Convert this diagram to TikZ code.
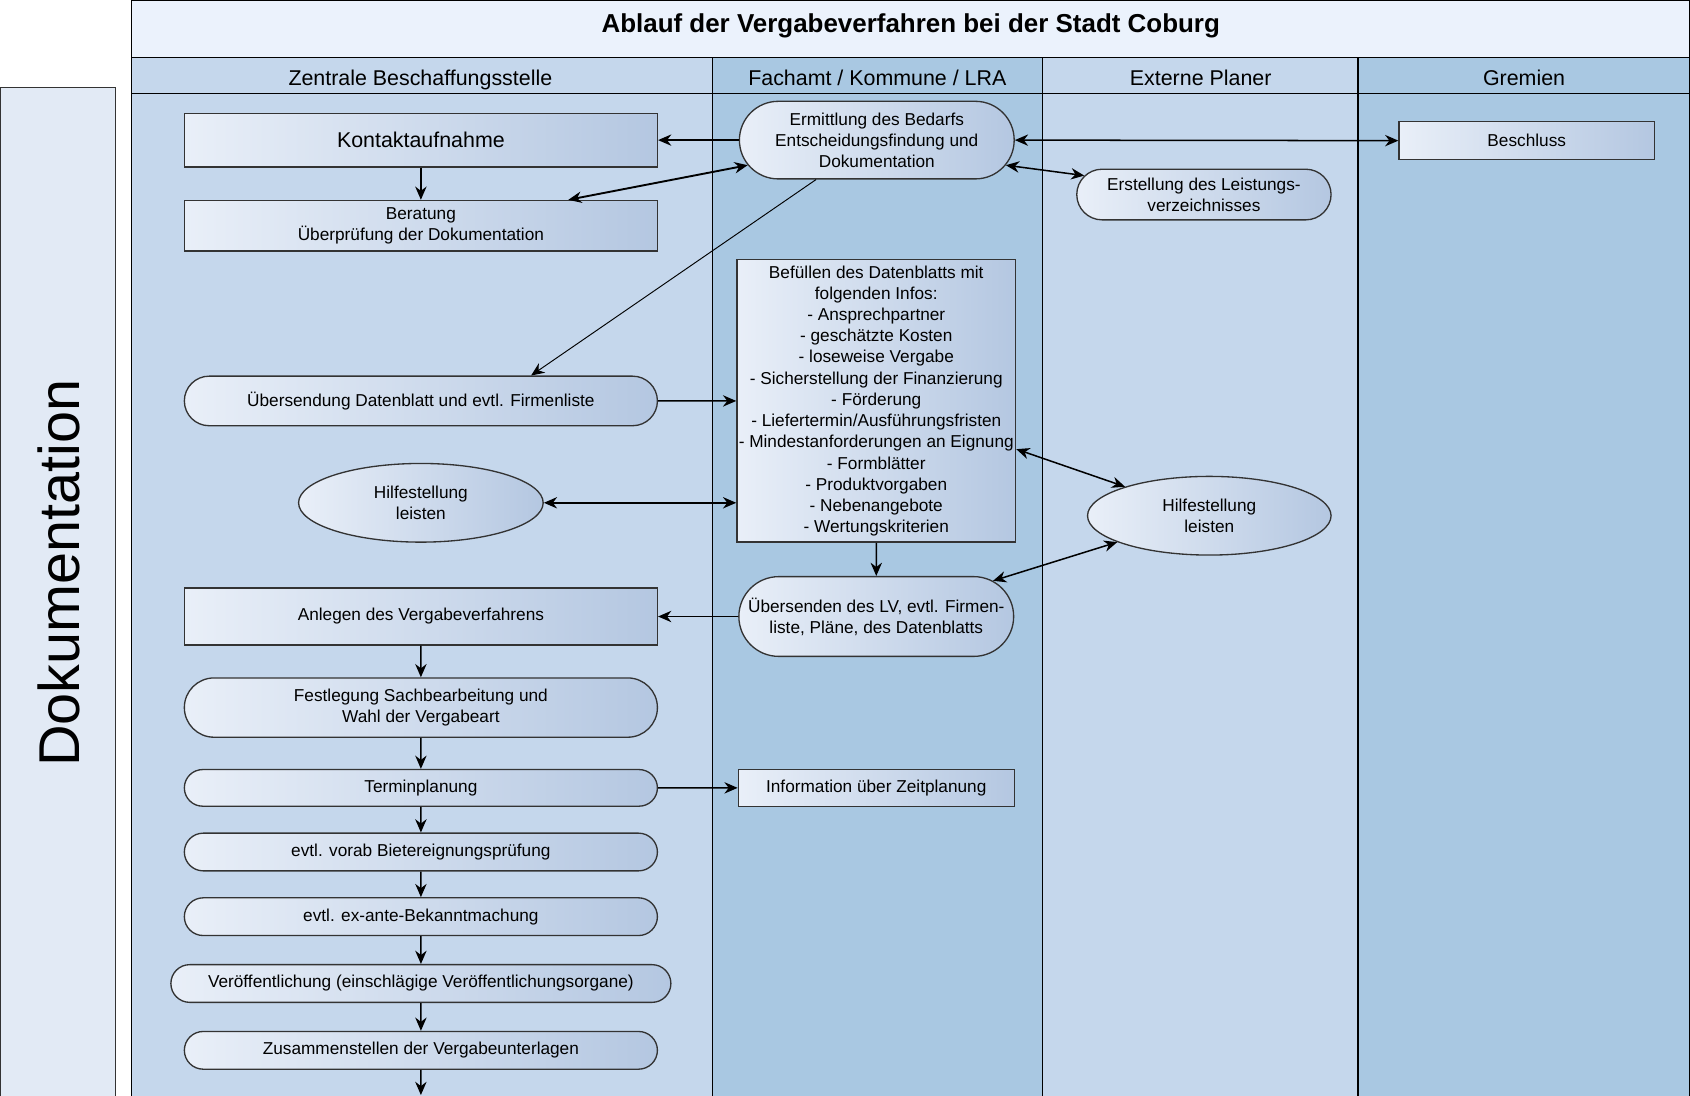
\documentclass[tikz,border=0pt]{standalone}
\usepackage{fontspec}
\setmainfont{Liberation Sans}
\usetikzlibrary{arrows.meta,shapes.misc,shapes.geometric}

\definecolor{bahnhell}{HTML}{C5D7EC}
\definecolor{bahndunkel}{HTML}{A9C8E2}
\definecolor{titelblau}{HTML}{EBF2FC}
\definecolor{dokublau}{HTML}{E2EAF5}
\definecolor{verlaufl}{HTML}{E9EFF8}
\definecolor{verlaufr}{HTML}{B4C7E1}
\definecolor{rahmen}{HTML}{333333}

\tikzset{
  schritt/.style={draw=rahmen, line width=0.7pt, left color=verlaufl, right color=verlaufr,
    align=center, font=\fontsize{9.1}{11.2}\selectfont, inner sep=1pt},
  kasten/.style={schritt, rectangle},
  % negatives xsep: Text darf in die Rundungen; Breite = minimum width + 2cm
  rund/.style={schritt, rounded rectangle, inner xsep=-1cm},
  oval/.style={schritt, ellipse, inner sep=0pt},
  pfeil/.style={-{Stealth[length=7pt,width=6pt]}, line width=0.8pt},
  beide/.style={{Stealth[length=7pt,width=6pt]}-{Stealth[length=7pt,width=6pt]}, line width=0.8pt},
  bahn/.style={draw=black, line width=0.6pt},
  kopf/.style={anchor=base, font=\fontsize{11.3}{13}\selectfont},
}

\begin{document}
\begin{tikzpicture}[x=0.02cm, y=-0.02cm]
  \useasboundingbox (0,0) rectangle (1568,1016);
  % Bahnen
  \fill[bahnhell] (122,53) rectangle (661,1020);
  \fill[bahndunkel] (661,53) rectangle (967,1020);
  \fill[bahnhell] (967,53) rectangle (1260,1020);
  \fill[bahndunkel] (1260,53) rectangle (1568,1020);
  \draw[bahn] (122,1020) -- (122,53) -- (1567.5,53) -- (1567.5,1020);
  \draw[bahn] (122,87) -- (1567.5,87);
  \foreach \x in {661,967,1260} \draw[bahn] (\x,53) -- (\x,1020);
  % Titel
  \draw[bahn, fill=titelblau] (122,0.5) rectangle (1567.5,53);
  \node[anchor=base, font=\bfseries\fontsize{13.7}{16}\selectfont] (titel) at (845,30) {Ablauf der Vergabeverfahren bei der Stadt Coburg};
  \node[kopf] (zbs) at (390,79) {Zentrale Beschaffungsstelle};
  \node[kopf] (fachamt) at (814,79) {Fachamt / Kommune / LRA};
  \node[kopf] (planer) at (1114,79) {Externe Planer};
  \node[kopf] (gremien) at (1414,79) {Gremien};
  % Dokumentation
  \draw[draw=rahmen, line width=0.8pt, fill=dokublau] (0.5,81) rectangle (107,1020);
  \node[rotate=90, font=\fontsize{30.4}{34}\selectfont] (doku) at (55,532) {Dokumentation};

  % Schritte
  \node[kasten, minimum width=8.78cm, minimum height=1cm, font=\fontsize{11.3}{13}\selectfont] (kontakt) at (390.5,130) {Kontaktaufnahme};
  \node[kasten, minimum width=8.78cm, minimum height=0.94cm] (beratung) at (390.5,209.5) {Beratung\\Überprüfung der Dokumentation};
  \node[rund, minimum width=3.1cm, minimum height=1.44cm] (bedarf) at (813.5,130) {Ermittlung des Bedarfs\\Entscheidungsfindung und\\Dokumentation};
  \node[kasten, minimum width=4.74cm, minimum height=0.7cm] (beschluss) at (1416.5,130.5) {Beschluss};
  \node[rund, minimum width=2.72cm, minimum height=0.94cm] (lv) at (1117,180.5) {Erstellung des Leistungs-\\verzeichnisses};
  \node[kasten, minimum width=5.12cm, minimum height=5.24cm] (datenblatt) at (813,372) {Befüllen des Datenblatts mit\\folgenden Infos:\\- Ansprechpartner\\- geschätzte Kosten\\- loseweise Vergabe\\- Sicherstellung der Finanzierung\\- Förderung\\- Liefertermin/Ausführungsfristen\\- Mindestanforderungen an Eignung\\- Formblätter\\- Produktvorgaben\\- Nebenangebote\\- Wertungskriterien};
  \node[rund, minimum width=6.78cm, minimum height=0.92cm] (uebersendung) at (390.5,372) {Übersendung Datenblatt und evtl. Firmenliste};
  \node[oval, minimum width=4.54cm, minimum height=1.46cm] (hilfeA) at (390.5,466.5) {Hilfestellung\\leisten};
  \node[oval, minimum width=4.52cm, minimum height=1.46cm] (hilfeB) at (1122,478.5) {Hilfestellung\\leisten};
  \node[rund, minimum width=3.1cm, minimum height=1.48cm] (versand) at (813,572) {Übersenden des LV, evtl. Firmen-\\liste, Pläne, des Datenblatts};
  \node[kasten, minimum width=8.78cm, minimum height=1.06cm] (anlegen) at (390.5,572) {Anlegen des Vergabeverfahrens};
  \node[rund, minimum width=6.78cm, minimum height=1.1cm] (festlegung) at (390.5,656.5) {Festlegung Sachbearbeitung und\\Wahl der Vergabeart};
  \node[rund, minimum width=6.78cm, minimum height=0.68cm] (termin) at (390.5,731) {Terminplanung};
  \node[kasten, minimum width=5.12cm, minimum height=0.68cm] (zeitplan) at (813,731) {Information über Zeitplanung};
  \node[rund, minimum width=6.78cm, minimum height=0.7cm] (eignung) at (390.5,790.5) {evtl. vorab Bietereignungsprüfung};
  \node[rund, minimum width=6.78cm, minimum height=0.7cm] (exante) at (390.5,850.5) {evtl. ex-ante-Bekanntmachung};
  \node[rund, minimum width=7.28cm, minimum height=0.7cm] (veroeff) at (390.5,912.5) {Veröffentlichung (einschlägige Veröffentlichungsorgane)};
  \node[rund, minimum width=6.78cm, minimum height=0.7cm] (unterlagen) at (390.5,974.5) {Zusammenstellen der Vergabeunterlagen};
  \coordinate (weiter) at (390.5,1016);

  % Verbindungen
  \draw[pfeil] (bedarf.west) -- (kontakt.east);
  \draw[pfeil] (kontakt) -- (beratung);
  \draw[beide, line width=1pt] (beratung.10) -- (bedarf.191);
  \draw[beide] (bedarf.east) -- (beschluss.west);
  \draw[beide] (bedarf.-11) -- (lv.171);
  \draw[pfeil, line width=0.5pt] (bedarf.213) -- (uebersendung.13);
  \draw[pfeil] (uebersendung) -- (datenblatt);
  \draw[beide] (hilfeA.east) -- (hilfeA.east -| datenblatt.west);
  \draw[beide] (datenblatt.-19) -- (hilfeB.161);
  \draw[pfeil] (datenblatt) -- (versand);
  \draw[beide] (hilfeB.196) -- (versand.17);
  \draw[pfeil] (versand) -- (anlegen);
  \foreach \a/\b in {anlegen/festlegung, festlegung/termin, termin/eignung, eignung/exante, exante/veroeff, veroeff/unterlagen}
    \draw[pfeil] (\a) -- (\b);
  \draw[pfeil] (termin) -- (zeitplan);
  \draw[pfeil] (unterlagen) -- (weiter);
\end{tikzpicture}
\end{document}
